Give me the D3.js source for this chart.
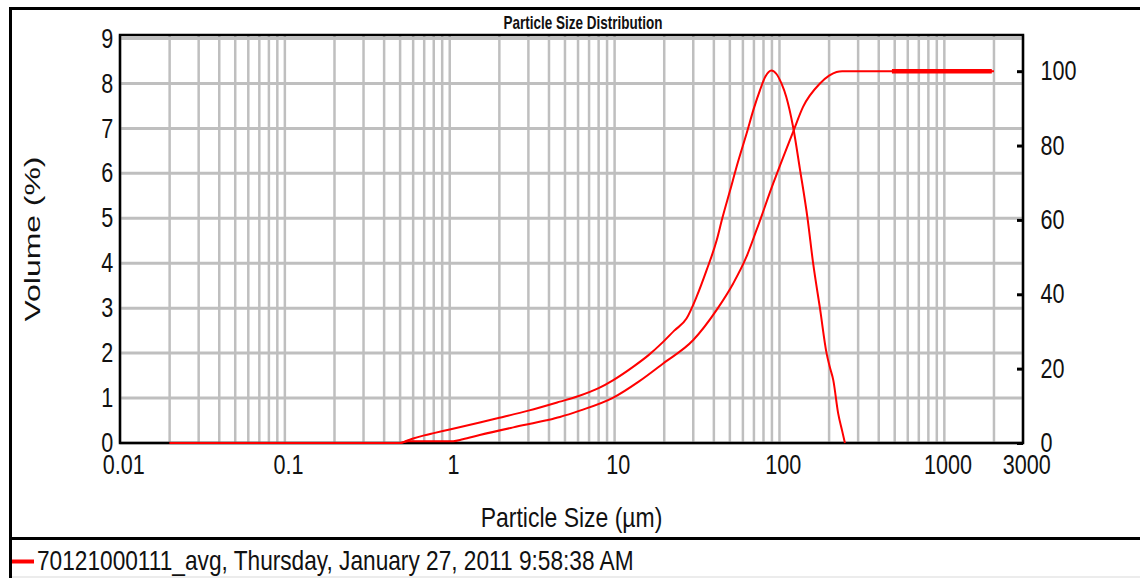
<!DOCTYPE html>
<html>
<head>
    <meta charset="utf-8">
    <title>Particle Size Distribution</title>
    <script src="https://d3js.org/d3.v7.min.js"></script>
    <style>
        body { margin: 0; background: #fff; }
        svg text { font-family: "Liberation Sans", Arial, sans-serif; fill: #111; }
    </style>
</head>
<body>
<div id="chart"></div>
<script>
    // Data
    var freqSize = [0.02, 0.5, 0.55, 0.6, 0.7, 0.8, 1.0, 1.5, 2.0, 3.0, 4.66, 6.0, 8.0, 9.82, 13, 16, 19.7, 23, 27.3, 31.4, 36.1, 41.6, 45, 50, 56, 63.1, 70, 76, 82, 89.5, 95.9, 102.8, 110, 121, 133, 148, 160, 176, 193, 202, 212, 227, 240, 249.5];
    var freqVal  = [0, 0, 0.05, 0.1, 0.17, 0.22, 0.3, 0.45, 0.56, 0.72, 0.92, 1.04, 1.22, 1.40, 1.7, 1.95, 2.25, 2.5, 2.77, 3.25, 3.84, 4.51, 5.0, 5.6, 6.25, 6.88, 7.45, 7.84, 8.15, 8.29, 8.21, 8.0, 7.7, 7.03, 6.1, 5.0, 4.0, 3.0, 2.0, 1.69, 1.4, 0.66, 0.27, 0];

    var cumSize = [0.02, 0.5, 0.56, 1.05, 1.2, 1.52, 2.43, 3.87, 4.66, 6.15, 9.82, 14, 19.7, 30, 41.6, 52.4, 63.1, 72.6, 91.6, 121, 139, 176, 200, 222, 240, 2000];
    var cumVal  = [0, 0, 0.5, 0.5, 1.0, 2.15, 4.2, 6.1, 7.0, 8.7, 12.2, 16.5, 21.4, 27.7, 35.8, 42.9, 50.1, 57.3, 69.8, 83.7, 90.4, 96.7, 98.8, 99.8, 100, 100];

    // heavier stretch of the 100% line
    var thickSize = [481, 1941];
    var thickVal  = [100, 100];

    var xTicks = [0.01, 0.1, 1, 10, 100, 1000, 3000];
    var xTickLabels = ["0.01", "0.1", "1", "10", "100", "1000", "3000"];
    var yLeftTicks = [0, 1, 2, 3, 4, 5, 6, 7, 8, 9];
    var yRightTicks = [0, 20, 40, 60, 80, 100];

    var title = "Particle Size Distribution";
    var xTitle = "Particle Size (\u00b5m)";
    var yTitle = "Volume (%)";
    var legendText = "70121000111_avg, Thursday, January 27, 2011 9:58:38 AM";

    var W = 1140, H = 578;
    var plot = {left: 120, right: 1023, top: 35, bottom: 443};
    var red = "#ff0000", gridColor = "#bfbfbf";

    var svg = d3.select("#chart").append("svg")
        .attr("width", W)
        .attr("height", H);

    // Scales
    var x = d3.scaleLog().domain([0.01, 3000]).range([plot.left, plot.right]);
    var yL = d3.scaleLinear().domain([0, 9]).range([plot.bottom, 38.5]);
    var yR = d3.scaleLinear().domain([0, 110]).range([plot.bottom, 34]);

    // Outer frame lines
    svg.append("line").attr("x1", 10.5).attr("x2", 10.5).attr("y1", 8).attr("y2", H)
        .attr("stroke", "#000").attr("stroke-width", 3);
    svg.append("line").attr("x1", 9).attr("x2", W).attr("y1", 8.5).attr("y2", 8.5)
        .attr("stroke", "#000").attr("stroke-width", 3);
    svg.append("line").attr("x1", 9).attr("x2", W).attr("y1", 538.5).attr("y2", 538.5)
        .attr("stroke", "#000").attr("stroke-width", 3);
    svg.append("line").attr("x1", 12).attr("x2", W).attr("y1", 577).attr("y2", 577)
        .attr("stroke", "#e6e6e6").attr("stroke-width", 1.5);

    // Grid
    svg.append("g").selectAll("line")
        .data(x.ticks())
        .enter().append("line")
        .attr("x1", function(d) { return x(d); })
        .attr("x2", function(d) { return x(d); })
        .attr("y1", plot.top)
        .attr("y2", plot.bottom)
        .attr("stroke", gridColor)
        .attr("stroke-width", 2.5);

    svg.append("g").selectAll("line")
        .data(yLeftTicks)
        .enter().append("line")
        .attr("x1", plot.left)
        .attr("x2", plot.right)
        .attr("y1", function(d) { return yL(d); })
        .attr("y2", function(d) { return yL(d); })
        .attr("stroke", gridColor)
        .attr("stroke-width", 3);

    // Plot frame
    svg.append("rect")
        .attr("x", plot.left).attr("y", plot.top)
        .attr("width", plot.right - plot.left)
        .attr("height", plot.bottom - plot.top)
        .attr("fill", "none")
        .attr("stroke", "#000")
        .attr("stroke-width", 2.5);

    // Axes
    var xAxis = svg.append("g")
        .attr("transform", "translate(0," + plot.bottom + ")")
        .call(d3.axisBottom(x).tickValues(xTicks).tickSize(0).tickPadding(12)
            .tickFormat(function(d, i) { return xTickLabels[i]; }));

    var yAxisL = svg.append("g")
        .attr("transform", "translate(" + plot.left + ",0)")
        .call(d3.axisLeft(yL).tickValues(yLeftTicks).tickSize(0).tickPadding(8.5)
            .tickFormat(d3.format("d")));

    var yAxisR = svg.append("g")
        .attr("transform", "translate(" + plot.right + ",0)")
        .call(d3.axisRight(yR).tickValues(yRightTicks).tickSizeInner(-6).tickSizeOuter(0).tickPadding(22)
            .tickFormat(d3.format("d")));

    [xAxis, yAxisL, yAxisR].forEach(function(g) {
        g.select(".domain").remove();
        g.selectAll("text")
            .attr("font-size", 27)
            .attr("font-family", "Liberation Sans, Arial, sans-serif")
            .attr("fill", "#111")
            .attr("transform", "scale(0.8,1)");
    });
    xAxis.selectAll("text").attr("dx", 4);
    yAxisR.selectAll(".tick line").attr("stroke", "#000").attr("stroke-width", 3);

    // Curves
    var line = d3.line()
        .x(function(d) { return x(d[0]); })
        .curve(d3.curveMonotoneX);

    svg.append("path")
        .datum(d3.zip(cumSize, cumVal))
        .attr("d", line.y(function(d) { return yR(d[1]); }))
        .attr("fill", "none")
        .attr("stroke", red)
        .attr("stroke-width", 2);

    svg.append("path")
        .datum(d3.zip(thickSize, thickVal))
        .attr("d", line.y(function(d) { return yR(d[1]); }))
        .attr("fill", "none")
        .attr("stroke", red)
        .attr("stroke-width", 4.5);

    svg.append("path")
        .datum(d3.zip(freqSize, freqVal))
        .attr("d", line.y(function(d) { return yL(d[1]); }))
        .attr("fill", "none")
        .attr("stroke", red)
        .attr("stroke-width", 2);

    // Titles
    svg.append("text")
        .attr("transform", "translate(583,29) scale(0.75,1)")
        .attr("text-anchor", "middle")
        .attr("font-size", 18)
        .attr("font-weight", "bold")
        .text(title);

    svg.append("text")
        .attr("transform", "translate(" + ((plot.left + plot.right) / 2) + ",527) scale(0.82,1)")
        .attr("text-anchor", "middle")
        .attr("font-size", 28)
        .text(xTitle);

    svg.append("text")
        .attr("transform", "translate(40," + ((plot.top + plot.bottom) / 2) + ") rotate(-90) scale(1.45,1)")
        .attr("text-anchor", "middle")
        .attr("font-size", 22)
        .text(yTitle);

    // Legend
    svg.append("line")
        .attr("x1", 12).attr("x2", 34)
        .attr("y1", 561.5).attr("y2", 561.5)
        .attr("stroke", red)
        .attr("stroke-width", 4);

    svg.append("text")
        .attr("transform", "translate(37,570) scale(0.81,1)")
        .attr("font-size", 28)
        .text(legendText);
</script>
</body>
</html>
